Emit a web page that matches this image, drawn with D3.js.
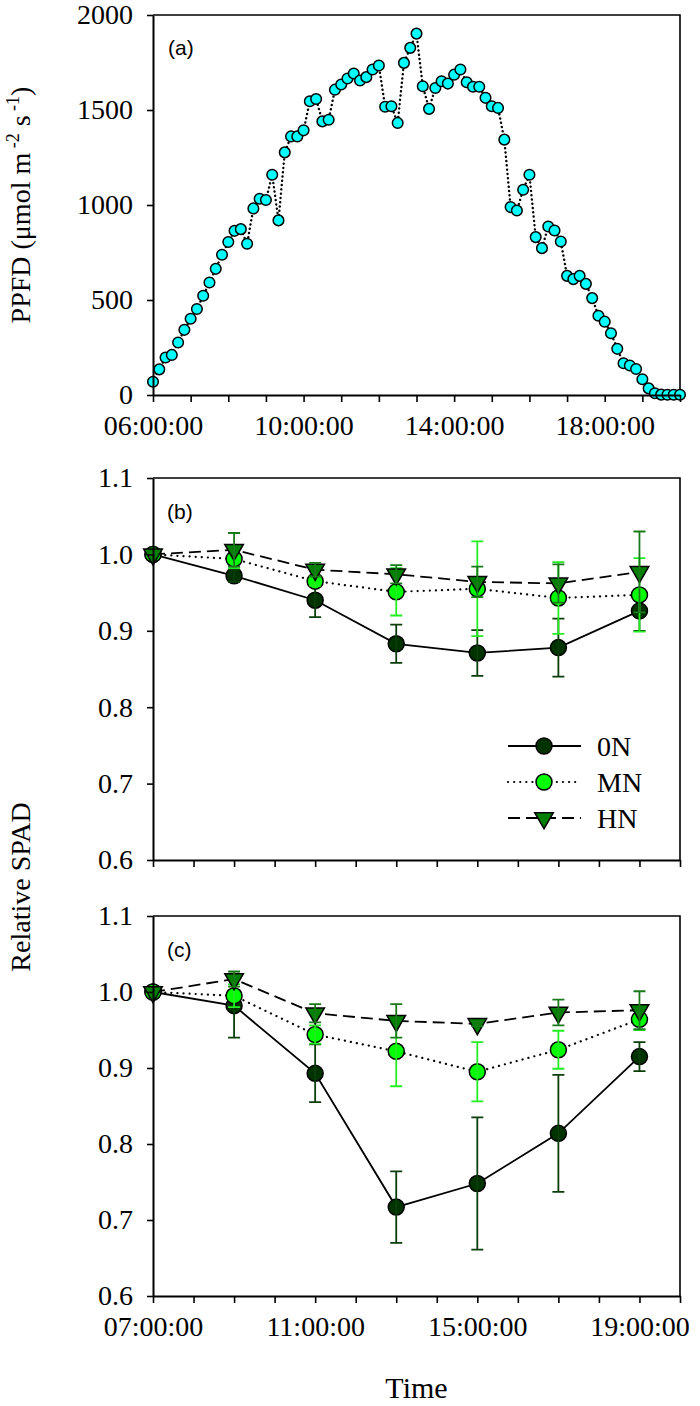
<!DOCTYPE html>
<html><head><meta charset="utf-8">
<script src="https://cdn.jsdelivr.net/npm/d3@7"></script>
<style>body{margin:0;background:#fff}svg{display:block}</style>
</head><body>
<script>
// ---------- Data ----------
const ppfdTimes = ["06:00","06:10","06:20","06:30","06:40","06:50","07:00","07:10","07:20","07:30","07:40","07:50",
"08:00","08:10","08:20","08:30","08:40","08:50","09:00","09:10","09:20","09:30","09:40","09:50",
"10:00","10:10","10:20","10:30","10:40","10:50","11:00","11:10","11:20","11:30","11:40","11:50",
"12:00","12:10","12:20","12:30","12:40","12:50","13:00","13:10","13:20","13:30","13:40","13:50",
"14:00","14:10","14:20","14:30","14:40","14:50","15:00","15:10","15:20","15:30","15:40","15:50",
"16:00","16:10","16:20","16:30","16:40","16:50","17:00","17:10","17:20","17:30","17:40","17:50",
"18:00","18:10","18:20","18:30","18:40","18:50","19:00","19:10","19:20","19:30","19:40","19:50","20:00"];
const ppfdValues = [70,135,197,211,276,343,401,453,522,592,664,738,
805,864,873,796,982,1033,1026,1159,919,1277,1361,1361,
1393,1546,1558,1440,1449,1607,1634,1666,1692,1655,1673,1713,
1734,1517,1520,1432,1748,1827,1902,1625,1506,1616,1651,1639,
1686,1713,1646,1622,1622,1564,1520,1511,1344,989,971,1080,
1159,831,773,887,866,808,627,610,627,585,510,417,
386,325,243,167,155,137,83,35,9,2,1,1,1];
const ppfdTickLabels = ["06:00:00","10:00:00","14:00:00","18:00:00"];
const ppfdYTicks = [0,500,1000,1500,2000];

const spadTimes = ["07:00","09:00","11:00","13:00","15:00","17:00","19:00"];
const spadTickLabels = ["07:00:00","11:00:00","15:00:00","19:00:00"];
const spadYTicks = [0.6,0.7,0.8,0.9,1.0,1.1];
const seriesNames = ["0N","MN","HN"];

// panel (b)
const b0N    = [1.000,0.972,0.940,0.883,0.871,0.878,0.926];
const b0NErr = [0,0.008,0.022,0.025,0.030,0.038,0.026];
const bMN    = [1.000,0.994,0.965,0.951,0.955,0.943,0.947];
const bMNErr = [0,0.012,0.006,0.031,0.062,0.047,0.048];
const bHN    = [1.000,1.006,0.980,0.974,0.964,0.962,0.977];
const bHNErr = [0,0.022,0.009,0.012,0.020,0.025,0.053];
// panel (c)
const c0N    = [1.000,0.982,0.893,0.717,0.748,0.814,0.915];
const c0NErr = [0,0.042,0.038,0.047,0.087,0.077,0.019];
const cMN    = [1.000,0.995,0.944,0.922,0.895,0.924,0.964];
const cMNErr = [0,0.015,0.012,0.046,0.039,0.025,0.014];
const cHN    = [1.000,1.017,0.972,0.962,0.958,0.973,0.976];
const cHNErr = [0,0.010,0.012,0.022,0.003,0.017,0.025];

// ---------- Helpers ----------
const toH = s => { const [h,m] = s.split(":").map(Number); return h + m/60; };
const labH = s => toH(s.slice(0,5));
const SERIF = "'Liberation Serif','Times New Roman',serif";
const SANS = "'Liberation Sans',Arial,sans-serif";

const svg = d3.select("body").append("svg").attr("width",700).attr("height",1406);

const L = 153, R = 680;

function styleAxis(g){
  g.selectAll("path.domain").attr("stroke","#000").attr("stroke-width",2);
  g.selectAll(".tick line").attr("stroke","#000").attr("stroke-width",1.6);
  g.selectAll("text").attr("font-family",SERIF).attr("font-size",28).attr("fill","#000");
}

function frame(x, y){
  const [x0,x1] = x.range(), [y0,y1] = y.range();
  svg.append("path").attr("d",`M${x0},${y1}H${x1}V${y0}`).attr("fill","none").attr("stroke","#000").attr("stroke-width",1.6);
}

function xAxis(x, y, hours, labels){
  const g = svg.append("g").attr("transform",`translate(0,${y.range()[0]})`)
    .call(d3.axisBottom(x).tickValues(hours).tickSize(7).tickSizeOuter(0).tickPadding(13)
      .tickFormat(h => { const l = labels.find(s => labH(s) === h); return l ? l : ""; }));
  styleAxis(g);
}
function yAxis(y, ticks, fmt){
  const g = svg.append("g").attr("transform",`translate(${L},0)`)
    .call(d3.axisLeft(y).tickValues(ticks).tickSize(6).tickSizeOuter(0).tickPadding(14).tickFormat(fmt));
  styleAxis(g);
}

// ---------- Panel (a) ----------
const xA = d3.scaleLinear().domain([6,20]).range([L,R]);
const yA = d3.scaleLinear().domain([0,2000]).range([395,15]);
frame(xA,yA);
const ppfd = ppfdTimes.map((t,i)=>({x:toH(t), y:ppfdValues[i]}));
svg.append("path").datum(ppfd)
  .attr("d", d3.line().x(d=>xA(d.x)).y(d=>yA(d.y)))
  .attr("fill","none").attr("stroke","#000").attr("stroke-width",2.4)
  .attr("stroke-dasharray","0.1,4.2").attr("stroke-linecap","round");
svg.append("g").selectAll("circle").data(ppfd).join("circle")
  .attr("cx",d=>xA(d.x)).attr("cy",d=>yA(d.y)).attr("r",5.3)
  .attr("fill","#00ffff").attr("stroke","#000").attr("stroke-width",1.5);
const hoursA = d3.range(6,21);
xAxis(xA,yA,hoursA,ppfdTickLabels);
yAxis(yA,ppfdYTicks,d3.format("d"));
svg.append("text").attr("x",168).attr("y",55).attr("font-family",SANS).attr("font-size",21).text("(a)");

// y title (a)
const ta = svg.append("text").attr("transform",`translate(30,${(15+395)/2}) rotate(-90)`)
  .attr("text-anchor","middle").attr("font-family",SERIF).attr("font-size",28);
ta.append("tspan").text("PPFD (μmol m");
ta.append("tspan").attr("font-size",18).attr("dy",-11).text(" -2");
ta.append("tspan").attr("dy",11).text(" s");
ta.append("tspan").attr("font-size",18).attr("dy",-11).text(" -1");
ta.append("tspan").attr("dy",11).text(")");

// ---------- Panels (b) and (c) ----------
const xB = d3.scaleLinear().domain([7,20]).range([L,R]);
const hoursB = d3.range(7,21);
const styles = {
  "0N": {fill:"#003300", err:"#0b3d0b", dash:null, sym:"circle"},
  "MN": {fill:"#00ff00", err:"#22ee22", dash:"0.1,6", sym:"circle"},
  "HN": {fill:"#008000", err:"#1a7a1a", dash:"12,6", sym:"tri"}
};

function spadPanel(yTop, yBot, vals, errs, label, showLabels){
  const y = d3.scaleLinear().domain([0.6,1.1]).range([yBot,yTop]);
  frame(xB,y);
  const data = seriesNames.map((n,k)=>({name:n, pts: spadTimes.map((t,i)=>({x:toH(t), y:vals[k][i], e:errs[k][i]}))}));
  data.forEach(s=>{
    const st = styles[s.name];
    const p = svg.append("path").datum(s.pts)
      .attr("d", d3.line().x(d=>xB(d.x)).y(d=>y(d.y)))
      .attr("fill","none").attr("stroke","#000").attr("stroke-width",1.8);
    if(st.dash){ p.attr("stroke-dasharray",st.dash); if(s.name==="MN") p.attr("stroke-linecap","round").attr("stroke-width",2.2); }
  });
  data.forEach(s=>{
    const st = styles[s.name];
    const g = svg.append("g");
    if(st.sym==="circle"){
      g.selectAll("circle").data(s.pts).join("circle")
        .attr("cx",d=>xB(d.x)).attr("cy",d=>y(d.y)).attr("r",8)
        .attr("fill",st.fill).attr("stroke","#000").attr("stroke-width",1.5);
    } else {
      g.selectAll("path").data(s.pts).join("path")
        .attr("d", d3.symbol().type(d3.symbolTriangle).size(150))
        .attr("transform",d=>`translate(${xB(d.x)},${y(d.y)}) rotate(180)`)
        .attr("fill",st.fill).attr("stroke","#000").attr("stroke-width",1.5);
    }
    const eb = svg.append("g").attr("stroke",st.err).attr("stroke-width",1.8).attr("fill","none");
    s.pts.filter(d=>d.e>0).forEach(d=>{
      const cx = xB(d.x), y1 = y(d.y+d.e), y2 = y(d.y-d.e);
      eb.append("path").attr("d",`M${cx},${y1}V${y2}M${cx-6},${y1}H${cx+6}M${cx-6},${y2}H${cx+6}`);
    });
  });
  xAxis(xB,y,hoursB, showLabels ? spadTickLabels : []);
  yAxis(y,spadYTicks,d3.format(".1f"));
  svg.append("text").attr("x",167).attr("y",yTop+41).attr("font-family",SANS).attr("font-size",21).text(label);
  return y;
}

spadPanel(478,860,[b0N,bMN,bHN],[b0NErr,bMNErr,bHNErr],"(b)",false);
spadPanel(916,1296,[c0N,cMN,cHN],[c0NErr,cMNErr,cHNErr],"(c)",true);

// legend (panel b)
const legY = [746,782,818];
seriesNames.forEach((n,i)=>{
  const st = styles[n];
  const ln = svg.append("line").attr("x1",508).attr("x2",581).attr("y1",legY[i]).attr("y2",legY[i])
    .attr("stroke","#000").attr("stroke-width",n==="MN"?2.2:1.8);
  if(st.dash){ ln.attr("stroke-dasharray",st.dash); if(n==="MN") ln.attr("stroke-linecap","round"); }
  if(st.sym==="circle"){
    svg.append("circle").attr("cx",544).attr("cy",legY[i]).attr("r",8).attr("fill",st.fill).attr("stroke","#000").attr("stroke-width",1.5);
  } else {
    svg.append("path").attr("d",d3.symbol().type(d3.symbolTriangle).size(150)())
      .attr("transform",`translate(544,${legY[i]}) rotate(180)`).attr("fill",st.fill).attr("stroke","#000").attr("stroke-width",1.5);
  }
  svg.append("text").attr("x",597).attr("y",legY[i]+10).attr("font-family",SERIF).attr("font-size",28).text(n);
});

// shared titles
svg.append("text").attr("transform",`translate(30,${(478+1296)/2}) rotate(-90)`)
  .attr("text-anchor","middle").attr("font-family",SERIF).attr("font-size",28).text("Relative SPAD");
svg.append("text").attr("x",(L+R)/2).attr("y",1398).attr("text-anchor","middle")
  .attr("font-family",SERIF).attr("font-size",30).text("Time");
</script>
</body></html>
